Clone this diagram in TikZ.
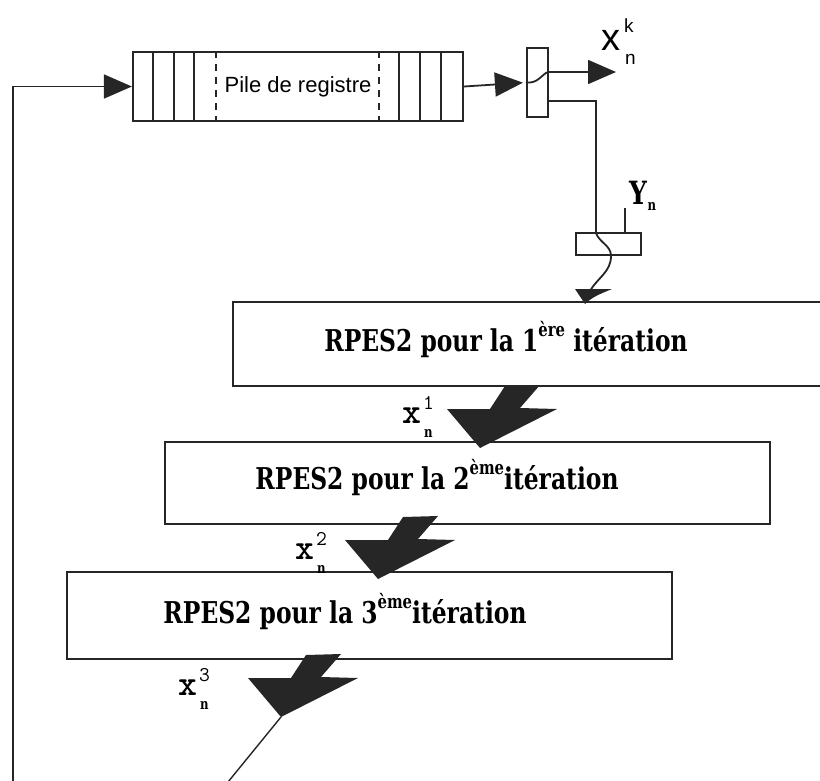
\documentclass[tikz,border=0pt]{standalone}
\usepackage{fontspec}
\setmainfont{Liberation Serif}
\setsansfont{Liberation Sans}
\newfontfamily\slabfont{DejaVu Serif}[FakeStretch=0.78]
\usetikzlibrary{arrows.meta,calc}
\newcommand{\boxtext}[1]{{\slabfont\bfseries\fontsize{30}{32}\selectfont #1}}
\newcommand{\supx}[1]{\raisebox{0.5em}{\fontsize{19}{19}\selectfont #1}}
\tikzset{
  wire/.style={draw=black!85, line width=1.8pt},
  arr/.style={wire, -{Triangle[length=28pt,width=24pt]}},
  boxx/.style={draw=black!85, line width=2.2pt, inner sep=0pt},
  thin/.style={draw=black!85, line width=1.4pt},
  xmain/.style={anchor=base west, inner sep=0pt, font=\ttfamily\bfseries\fontsize{36}{36}\selectfont},
  xsup/.style={anchor=base west, inner sep=0pt, font=\ttfamily\fontsize{21}{21}\selectfont},
  xsub/.style={anchor=base west, inner sep=0pt, font=\slabfont\bfseries\fontsize{15}{15}\selectfont},
  kmain/.style={anchor=base west, inner sep=0pt, font=\sffamily\fontsize{38}{38}\selectfont},
  kscript/.style={anchor=base west, inner sep=0pt, font=\sffamily\fontsize{19}{19}\selectfont},
  bolt/.pic={\fill[black!85] (0,0) -- (-33,-39) -- (10,-39) -- (25,-62) -- (60,-63) -- (40,-40) -- (77,-39) -- cycle;}
}
\begin{document}
\begin{tikzpicture}[x=1pt,y=-1pt]
\clip (0,0) rectangle (820,780);
\fill[white] (0,0) rectangle (820,780);
% register stack
\node[boxx, minimum width=330pt, minimum height=69pt] (reg) at (298,86.5) {};
\foreach \xx in {21,42,62,267,288,309}{
  \draw[thin] ($(reg.north west)+(\xx,0)$) -- ($(reg.south west)+(\xx,0)$);
}
\foreach \xx in {84,247}{
  \draw[thin, dash pattern=on 7pt off 6pt] ($(reg.north west)+(\xx,0)$) -- ($(reg.south west)+(\xx,0)$);
}
\node[font=\sffamily\fontsize{22}{22}\selectfont] (pile) at (298,87) {Pile de registre};
% feedback line
\coordinate (fb) at (13,782);
\draw[arr] (fb) |- (reg.west);
% switch
\node[boxx, minimum width=21pt, minimum height=69pt] (sw) at (537.5,82.5) {};
\draw[arr, shorten >=3pt] (reg.east) -- (sw.west);
\coordinate (swo1) at (548,72);
\coordinate (swo2) at (548,101);
\coordinate (xk) at (616,72);
\draw[wire] (sw.west) .. controls (538,84) and (542,74) .. (swo1);
\draw[arr] (swo1) -- (xk);
\node[kmain] (xkx) at (601,50) {x};
\node[kscript] (xkk) at (624,32) {k};
\node[kscript] (xkn) at (625,64) {n};
% Yn box
\node[boxx, minimum width=65pt, minimum height=22pt] (yb) at (608.5,244) {};
\coordinate (yin) at (596,233);
\draw[wire] (swo2) -| (yin);
\coordinate (tick) at (625,208);
\draw[wire] (tick) -- (tick |- yb.north);
\node (ylab) at (643,196) {\slabfont\bfseries\fontsize{32}{32}\selectfont Y\raisebox{-6pt}{\fontsize{15}{15}\selectfont n}};
\coordinate (ymid) at (611,256);
\coordinate (ytip) at (590,291);
\draw[wire] (yin) to[out=-70,in=90] (ymid) to[out=-90,in=60] (ytip);
\fill[black!85] (575,289) -- (612,289) .. controls (600,294) and (592,297) .. (585,304) -- cycle;
% iteration boxes
\node[boxx, minimum width=605pt, minimum height=84pt] (b1) at (535.5,344) {};
\node[boxx, minimum width=605pt, minimum height=82pt] (b2) at (467.5,483) {};
\node[boxx, minimum width=605pt, minimum height=87pt] (b3) at (369.5,615.5) {};
\node (t1) at (506,340) {\boxtext{RPES2 pour la 1\supx{ère} itération}};
\node (t2) at (437,478) {\boxtext{RPES2 pour la 2\supx{ème}itération}};
\node (t3) at (345,612) {\boxtext{RPES2 pour la 3\supx{ème}itération}};
% bolt arrows
\coordinate (tip1) at (480,448);
\coordinate (tip2) at (378,579);
\coordinate (tip3) at (281,717);
\pic at (tip1) {bolt};
\pic at (tip2) {bolt};
\pic at (tip3) {bolt};
\coordinate (tail) at (228,782);
\draw[thin] (tip3) -- (tail);
% labels
\node[xmain] (x1) at (402,423) {x};
\node[xsup] (x1s) at (423,409) {1};
\node[xsub] (x1b) at (424,437) {n};
\node[xmain] (x2) at (295,559) {x};
\node[xsup] (x2s) at (316,545) {2};
\node[xsub] (x2b) at (317,573) {n};
\node[xmain] (x3) at (178,695) {x};
\node[xsup] (x3s) at (199,681) {3};
\node[xsub] (x3b) at (200,709) {n};
\end{tikzpicture}
\end{document}
